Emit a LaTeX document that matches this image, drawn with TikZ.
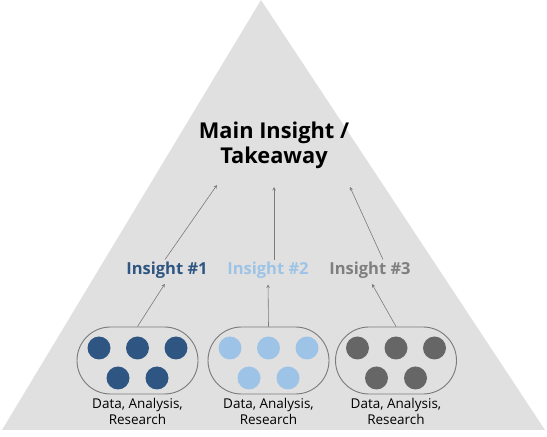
\documentclass[tikz,border=0pt]{standalone}
\usepackage{fontspec}
\setmainfont{Open Sans}
\usetikzlibrary{positioning}
\definecolor{pyramid}{HTML}{E0E0E0}
\definecolor{darkblue}{HTML}{2F5582}
\definecolor{lightblue}{HTML}{9DC3E6}
\definecolor{dotgray}{HTML}{666666}
\definecolor{labelgray}{HTML}{7F7F7F}
\definecolor{linegray}{HTML}{7A7A7A}
\newcommand{\dar}{Data, Analysis,\\Research}

\begin{document}
\begin{tikzpicture}[x=1pt, y=1pt,
  pill/.style={draw=linegray, line width=0.9pt, minimum width=121pt,
    minimum height=67pt, rounded corners=33.5pt, inner sep=0pt},
  dot/.style={circle, minimum size=23pt, inner sep=0pt},
  caption/.style={align=center, font=\fontsize{13.5}{15.5}\selectfont, inner sep=0pt},
  insight/.style={font=\fontsize{16.5}{19}\selectfont\bfseries, inner sep=2pt},
  main/.style={align=center, font=\fontsize{21.8}{25}\selectfont\bfseries},
  arrow/.style={-stealth, draw=linegray, line width=0.6pt}]
  \useasboundingbox (0,0) rectangle (547,437);
  \fill [pyramid] (2,7) -- (261,437) -- (545,7) -- cycle;

  \node [main] (main) at (274,292) {Main Insight /\\Takeaway};

  \foreach \i/\x/\ix/\col/\txt in {1/137.5/167/darkblue/darkblue,
                                   2/268.5/268/lightblue/lightblue,
                                   3/396/370/dotgray/labelgray}{
    \node [pill] (group-\i) at (\x,76.5) {};
    \foreach \dx/\dy [count=\j] in {-38.5/12.5, 0/12.5, 38.5/12.5,
                                    -19.5/-17.5, 19.5/-17.5}{
      \node [dot, fill=\col] (dot-\i-\j) at ([shift={(\dx,\dy)}]group-\i.center) {};
    };
    \node [caption, below=4pt of group-\i] (caption-\i) {\dar};
    \node [insight, text=\txt] (insight-\i) at (\ix,167) {Insight \#\i};
    \draw [arrow, shorten >=4pt] (group-\i.north) -- (insight-\i.south);
  };

  \coordinate (tip-1) at (217,252);
  \coordinate (tip-2) at (274,250);
  \coordinate (tip-3) at (350,250);
  \foreach \i/\s in {1/-2, 2/6, 3/13}{
    \draw [arrow] ([xshift=\s pt]insight-\i.north) -- (tip-\i);
  };
\end{tikzpicture}
\end{document}
